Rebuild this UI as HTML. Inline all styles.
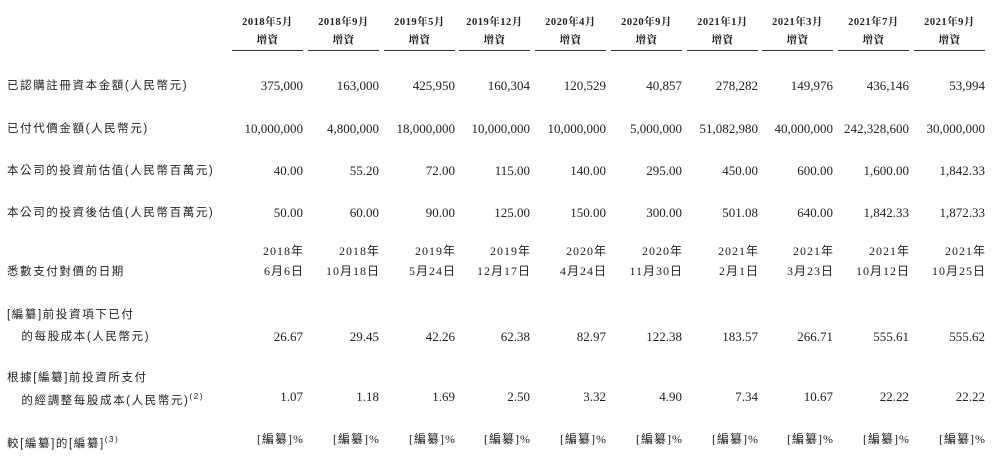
<!DOCTYPE html>
<html><head><meta charset="utf-8"><style>
body{margin:0;width:1000px;height:457px;background:#fff;position:relative;overflow:hidden;color:#222}
.l{position:absolute;left:7px;font-family:"Liberation Sans","Noto Sans CJK TC",sans-serif;font-size:11.5px;letter-spacing:1.6px;white-space:nowrap;line-height:14px}
.c{position:absolute;width:71px;text-align:right;font-family:"Liberation Serif","Noto Serif CJK SC",serif;font-size:13px;white-space:nowrap;line-height:15px}
.h{position:absolute;width:71px;text-align:center;font-family:"Liberation Serif","Noto Serif CJK SC",serif;font-size:10.5px;font-weight:bold;line-height:18px;border-bottom:1.5px solid #333;letter-spacing:0.5px}
.cj{font-family:"Liberation Serif","Noto Sans CJK TC",serif;letter-spacing:1px}
sup{font-size:8px}
</style></head><body>
<div id="root"></div>
<script>
var X=[232,308,384,459,535,611,687,762,838,914];
var H=["2018年5月","2018年9月","2019年5月","2019年12月","2020年4月","2020年9月","2021年1月","2021年3月","2021年7月","2021年9月"];
var rows=[
[78,["375,000","163,000","425,950","160,304","120,529","40,857","278,282","149,976","436,146","53,994"]],
[121,["10,000,000","4,800,000","18,000,000","10,000,000","10,000,000","5,000,000","51,082,980","40,000,000","242,328,600","30,000,000"]],
[163,["40.00","55.20","72.00","115.00","140.00","295.00","450.00","600.00","1,600.00","1,842.33"]],
[205,["50.00","60.00","90.00","125.00","150.00","300.00","501.08","640.00","1,842.33","1,872.33"]],
[244,["2018年","2018年","2019年","2019年","2020年","2020年","2021年","2021年","2021年","2021年"]],
[264,["6月6日","10月18日","5月24日","12月17日","4月24日","11月30日","2月1日","3月23日","10月12日","10月25日"]],
[329,["26.67","29.45","42.26","62.38","82.97","122.38","183.57","266.71","555.61","555.62"]],
[389,["1.07","1.18","1.69","2.50","3.32","4.90","7.34","10.67","22.22","22.22"]],
[432,Array(10).fill("[編纂]%")]
];
var s="";
for(var i=0;i<10;i++){s+='<div class="h" style="left:'+X[i]+'px;top:14px">'+H[i]+'<br>增資</div>';}
rows.forEach(function(r,ri){var cj=(ri==4||ri==5||ri==8);for(var i=0;i<10;i++){s+='<div class="c'+(cj?' cj':'')+'" style="left:'+(cj?X[i]+1:X[i])+'px;top:'+r[0]+'px;'+(cj?'font-size:12px;':'')+'">'+r[1][i]+'</div>';}});
var L=[[79,"已認購註冊資本金額(人民幣元)"],[122,"已付代價金額(人民幣元)"],[164,"本公司的投資前估值(人民幣百萬元)"],[206,"本公司的投資後估值(人民幣百萬元)"],[265,"悉數支付對價的日期"],[308,"[編纂]前投資項下已付"],[330,"&nbsp;&nbsp;&nbsp;的每股成本(人民幣元)"],[371,"根據[編纂]前投資所支付"],[390,"&nbsp;&nbsp;&nbsp;的經調整每股成本(人民幣元)<sup>(2)</sup>"],[433,"較[編纂]的[編纂]<sup>(3)</sup>"]];
L.forEach(function(l){s+='<div class="l" style="top:'+l[0]+'px">'+l[1]+'</div>';});
document.getElementById("root").innerHTML=s;
</script>
</body></html>
